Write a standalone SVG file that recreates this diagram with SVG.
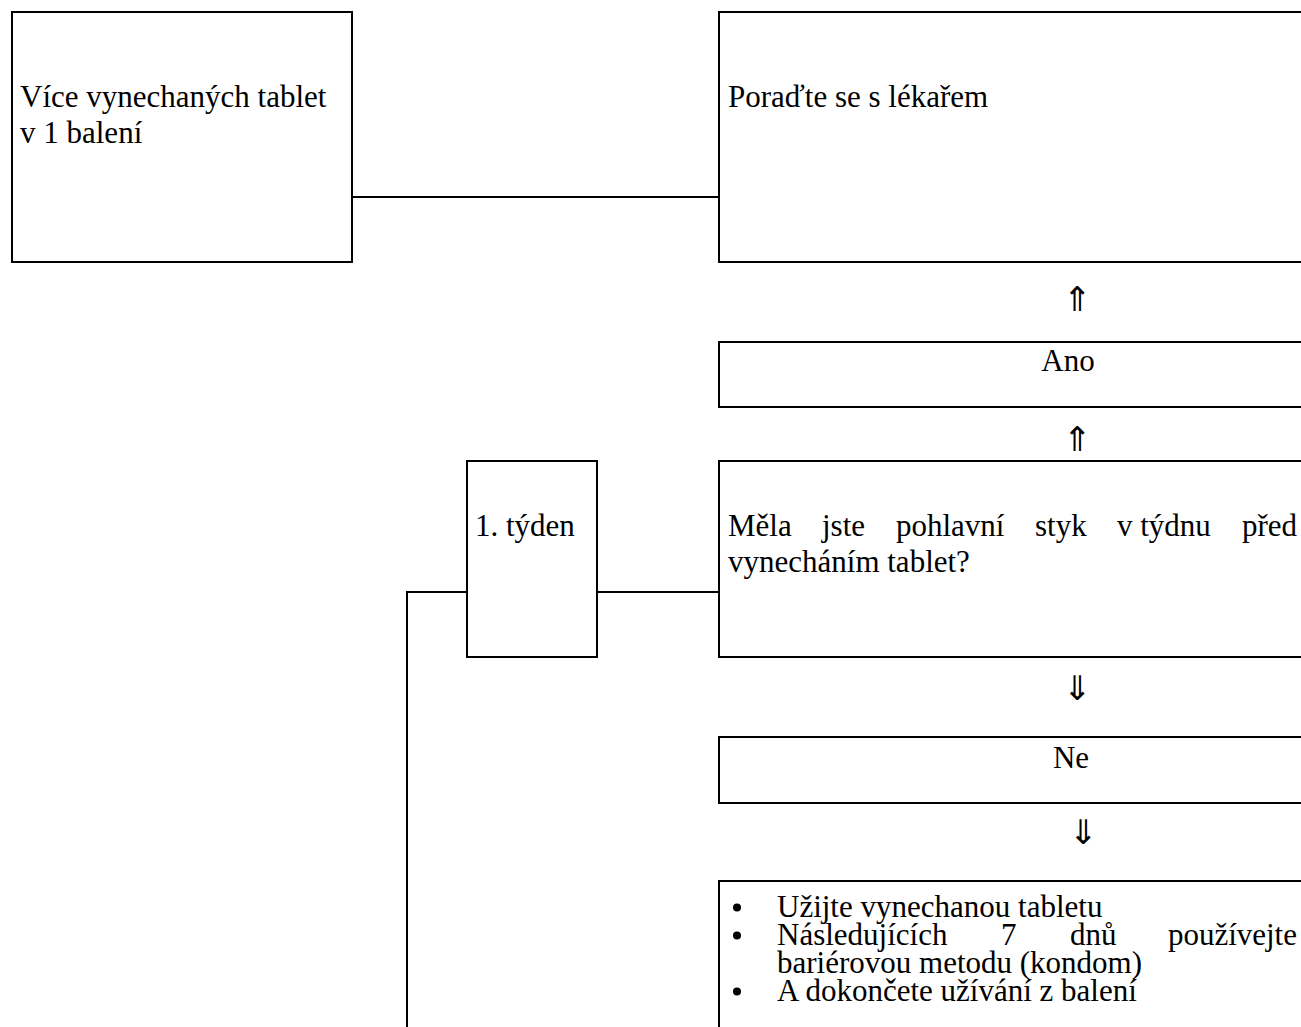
<svg xmlns="http://www.w3.org/2000/svg" width="1301" height="1027" viewBox="0 0 1301 1027">
<style>
  .box { fill: none; stroke: #000; stroke-width: 2; }
  .ln { fill: none; stroke: #000; stroke-width: 2; }
  text { font-family: "Liberation Serif", "Times New Roman", "DejaVu Serif", serif; font-size: 31px; fill: #000; }
  .arr { font-family: "DejaVu Sans", "Liberation Serif", sans-serif; font-weight: 200; font-size: 34px; text-anchor: middle; }
  .mid { text-anchor: middle; }
  .end { text-anchor: end; }
</style>
<rect width="1301" height="1027" fill="#fff"/>
<g id="connectors">
  <line class="ln" x1="352" y1="197" x2="719" y2="197"/>
  <line class="ln" x1="597" y1="592" x2="719" y2="592"/>
  <polyline class="ln" points="467,592 407,592 407,1027"/>
</g>
<g id="node-vice">
  <rect class="box" x="12" y="12" width="340" height="250"/>
  <text x="20" y="107">Více vynechaných tablet</text>
  <text x="20" y="142.5">v 1 balení</text>
</g>
<g id="node-porad">
  <rect class="box" x="719" y="12" width="700" height="250"/>
  <text x="728" y="107">Poraďte se s lékařem</text>
</g>
<g id="arrow-up-1"><text class="arr" x="1077" y="311">⇑</text></g>
<g id="node-ano">
  <rect class="box" x="719" y="342" width="700" height="65"/>
  <text class="mid" x="1068" y="371">Ano</text>
</g>
<g id="arrow-up-2"><text class="arr" x="1077" y="451">⇑</text></g>
<g id="node-tyden">
  <rect class="box" x="467" y="461" width="130" height="196"/>
  <text x="475" y="536">1. týden</text>
</g>
<g id="node-otazka">
  <rect class="box" x="719" y="461" width="700" height="196"/>
  <text x="728" y="536">Měla</text>
  <text x="822" y="536">jste</text>
  <text x="896" y="536">pohlavní</text>
  <text x="1035" y="536">styk</text>
  <text x="1117" y="536">v týdnu</text>
  <text class="end" x="1297" y="536">před</text>
  <text x="728" y="571.5">vynecháním tablet?</text>
</g>
<g id="arrow-down-1"><text class="arr" x="1077" y="700">⇓</text></g>
<g id="node-ne">
  <rect class="box" x="719" y="737" width="700" height="66"/>
  <text class="mid" x="1071" y="768">Ne</text>
</g>
<g id="arrow-down-2"><text class="arr" x="1083" y="844">⇓</text></g>
<g id="node-kroky">
  <rect class="box" x="719" y="881" width="700" height="300"/>
  <circle cx="737" cy="907.5" r="4"/>
  <text x="777" y="916.5">Užijte vynechanou tabletu</text>
  <circle cx="737" cy="935.5" r="4"/>
  <text x="777" y="944.5">Následujících</text>
  <text x="1001" y="944.5">7</text>
  <text x="1070" y="944.5">dnů</text>
  <text class="end" x="1297" y="944.5">používejte</text>
  <text x="777" y="972.5">bariérovou metodu (kondom)</text>
  <circle cx="737" cy="991.5" r="4"/>
  <text x="777" y="1000.5">A dokončete užívání z balení</text>
</g>
</svg>
